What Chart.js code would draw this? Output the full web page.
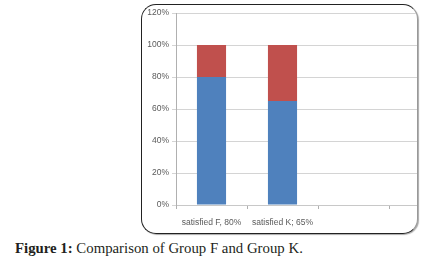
<!DOCTYPE html>
<html>
<head>
<meta charset="utf-8">
<script src="https://cdn.jsdelivr.net/npm/chart.js@4"></script>
<style>
  body { margin: 0; background: #fff; width: 441px; height: 272px; position: relative; overflow: hidden; }
  #box {
    position: absolute; left: 141px; top: 4px; width: 275px; height: 228px;
    border: 1.5px solid #222; border-right-color: #999; border-radius: 15px;
    overflow: hidden; background: #fff; box-shadow: 1px 1px 1px #aaa;
  }
  #chart { position: absolute; left: 0; top: 0; }
  #caption {
    position: absolute; left: 15px; top: 240px;
    font-family: "Liberation Serif", "DejaVu Serif", serif; font-size: 14.8px; color: #231f20;
    white-space: nowrap;
  }
</style>
</head>
<body>
<div id="box"><canvas id="chart" width="320" height="227"></canvas></div>
<div id="caption"><b>Figure 1:</b> Comparison of Group F and Group K.</div>
<script>
// categories and values
const categories = ["satisfied F, 80%", "satisfied K; 65%", "", ""];
const satisfied = [80, 65, null, null];
const rest = [20, 35, null, null];
const yTicks = [0, 20, 40, 60, 80, 100, 120];

const ctx = document.getElementById("chart").getContext("2d");

new Chart(ctx, {
  type: "bar",
  data: {
    labels: categories,
    datasets: [
      { label: "satisfied", data: satisfied, backgroundColor: "#4f81bd" },
      { label: "not satisfied", data: rest, backgroundColor: "#c0504d" }
    ]
  },
  options: {
    responsive: false,
    animation: false,
    layout: { padding: { top: 7, left: 0, right: 2, bottom: 0 } },
    plugins: { legend: { display: false }, tooltip: { enabled: false } },
    datasets: { bar: { categoryPercentage: 1, barPercentage: 0.41 } },
    scales: {
      x: {
        stacked: true,
        grid: { drawOnChartArea: false, tickLength: 4, color: "#b0b0b0" },
        border: { color: "#c8c8c8" },
        ticks: { color: "#5a5a5a", padding: 9, maxRotation: 0, font: { family: "Liberation Sans", size: 8.5 } },
        afterFit: s => { s.height = 27; }
      },
      y: {
        stacked: true,
        min: 0,
        max: 120,
        afterBuildTicks: s => { s.ticks = yTicks.map(v => ({ value: v })); },
        grid: { color: "#d4d4d4", tickLength: 4 },
        border: { color: "#b0b0b0" },
        ticks: {
          color: "#5a5a5a", padding: 3,
          font: { family: "Liberation Sans", size: 8.5 },
          callback: v => v + "%"
        },
        afterFit: s => { s.width = 34; }
      }
    }
  }
});
</script>
</body>
</html>
